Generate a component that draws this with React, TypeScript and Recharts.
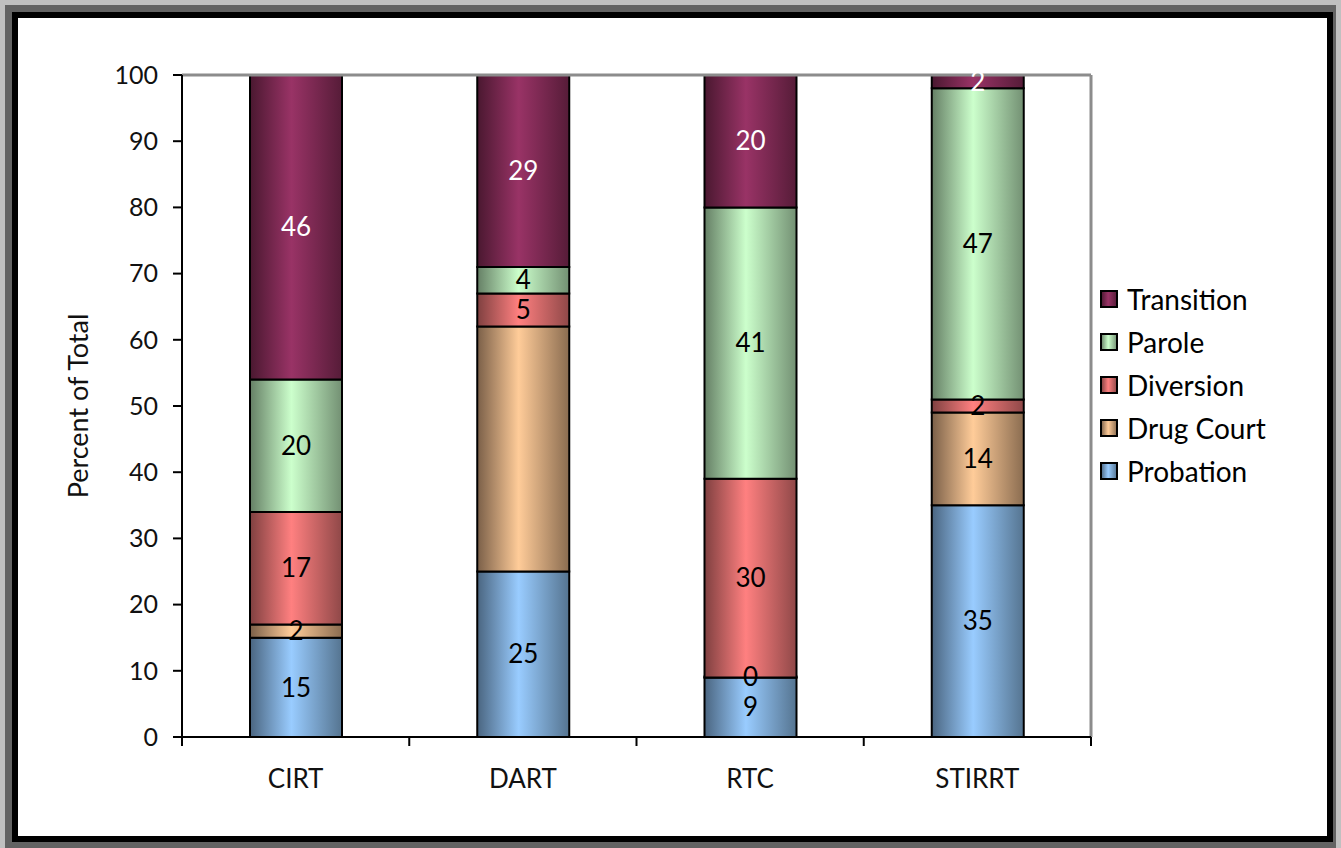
import { BarChart, Bar, XAxis, YAxis, Legend, LabelList, ReferenceLine } from "recharts";

const categories = ["CIRT", "DART", "RTC", "STIRRT"];

// stacked bottom to top
const seriesNames = ["Probation", "Drug Court", "Diversion", "Parole", "Transition"];
const probation = [15, 25, 9, 35];
const drugCourt = [2, 37, 0, 14];
const diversion = [17, 5, 30, 2];
const parole = [20, 4, 41, 47];
const transition = [46, 29, 20, 2];

// Excel did not print the DART drug court label
const hiddenLabels = [["DART", "Drug Court"]];

const yTicks = [0, 10, 20, 30, 40, 50, 60, 70, 80, 90, 100];

const SERIES_STYLE: Record<string, { id: string; light: string; dark: string; edge: string; label: string }> = {
  Probation: { id: "gProb", light: "#99CCFF", dark: "#4a6580", edge: "#557490", label: "#000" },
  "Drug Court": { id: "gDrug", light: "#FFCC99", dark: "#7a5f48", edge: "#8a6c50", label: "#000" },
  Diversion: { id: "gDiv", light: "#FF8080", dark: "#7f4040", edge: "#8f4848", label: "#000" },
  Parole: { id: "gPar", light: "#CCFFCC", dark: "#657f65", edge: "#739073", label: "#000" },
  Transition: { id: "gTra", light: "#993366", dark: "#4a1830", edge: "#561c38", label: "#fff" },
};

const values: Record<string, number[]> = {
  Probation: probation,
  "Drug Court": drugCourt,
  Diversion: diversion,
  Parole: parole,
  Transition: transition,
};

const data = categories.map((c, i) => {
  const row: Record<string, string | number> = { name: c };
  seriesNames.forEach((s) => {
    row[s] = values[s][i];
    const hidden = hiddenLabels.some(([cat, ser]) => cat === c && ser === s);
    row[`${s}_label`] = hidden ? "" : String(values[s][i]);
  });
  return row;
});

const FONT = "Lato, 'Open Sans', sans-serif";

// category label in the middle, tick marks on the band edges (Excel style)
function CategoryTick(props: any) {
  const { x, y, payload, index, visibleTicksCount } = props;
  const half = payload.offset ?? 0;
  const isLast = index === visibleTicksCount - 1;
  return (
    <g>
      <line x1={x - half} y1={y} x2={x - half} y2={y + 9} stroke="#000" strokeWidth={2} />
      {isLast && <line x1={x + half} y1={y} x2={x + half} y2={y + 9} stroke="#000" strokeWidth={2} />}
      <text x={x} y={y + 51} textAnchor="middle" fontSize={26} fill="#111" fontFamily={FONT}>
        {payload.value}
      </text>
    </g>
  );
}

function LegendBox() {
  return (
    <div style={{ fontFamily: FONT, fontSize: 28, color: "#000" }}>
      {[...seriesNames].reverse().map((s) => (
        <div key={s} style={{ display: "flex", alignItems: "center", height: 43 }}>
          <svg width={18} height={18} style={{ marginRight: 9 }}>
            <rect x={1} y={1} width={16} height={16} fill={`url(#${SERIES_STYLE[s].id})`} stroke="#000" strokeWidth={2} />
          </svg>
          <span>{s}</span>
        </div>
      ))}
    </div>
  );
}

export default function App() {
  return (
    <div style={{ position: "absolute", left: 0, top: 0, width: 1341, height: 848, background: "#c0c0c0", overflow: "hidden" }}>
      <div style={{ position: "absolute", left: 5, top: 5, width: 1331, height: 843, background: "#636363" }} />
      <div
        style={{
          position: "absolute",
          left: 12,
          top: 12,
          width: 1309,
          height: 818,
          background: "#fff",
          border: "6px solid #000",
        }}
      />
      <div style={{ position: "absolute", left: 0, top: 0 }}>
        <BarChart width={1341} height={848} data={data} margin={{ top: 75, right: 250, left: 102, bottom: 51 }}>
          <defs>
            {seriesNames.map((s) => {
              const st = SERIES_STYLE[s];
              return (
                <linearGradient key={s} id={st.id} x1="0" y1="0" x2="1" y2="0">
                  <stop offset="0%" stopColor={st.dark} />
                  <stop offset="45%" stopColor={st.light} />
                  <stop offset="100%" stopColor={st.edge} />
                </linearGradient>
              );
            })}
          </defs>
          <XAxis
            dataKey="name"
            height={60}
            interval={0}
            tickSize={0}
            tickMargin={0}
            tickLine={false}
            axisLine={{ stroke: "#000", strokeWidth: 2 }}
            tick={<CategoryTick />}
          />
          <YAxis
            type="number"
            domain={[0, 100]}
            ticks={yTicks}
            width={80}
            tickSize={9}
            tickMargin={15}
            interval={0}
            axisLine={{ stroke: "#000", strokeWidth: 2 }}
            tickLine={{ stroke: "#000", strokeWidth: 2 }}
            tick={{ fontSize: 25, fill: "#111", fontFamily: FONT }}
            label={{
              value: "Percent of Total",
              angle: -90,
              position: "insideLeft",
              dx: -29,
              style: { fontSize: 27, fill: "#111", fontFamily: FONT, textAnchor: "middle" },
            }}
          />
          <ReferenceLine y={100} stroke="#8c8c8c" strokeWidth={3} />
          <ReferenceLine x="STIRRT" position="end" stroke="#8c8c8c" strokeWidth={3} />
          {seriesNames.map((s) => (
            <Bar
              key={s}
              dataKey={s}
              stackId="a"
              barSize={92}
              minPointSize={1}
              fill={`url(#${SERIES_STYLE[s].id})`}
              stroke="#000"
              strokeWidth={2}
              isAnimationActive={false}
            >
              <LabelList
                dataKey={`${s}_label`}
                position="center"
                fill={SERIES_STYLE[s].label}
                style={{ fontSize: 26, fontFamily: FONT }}
              />
            </Bar>
          ))}
          <Legend
            layout="vertical"
            align="center"
            verticalAlign="middle"
            content={<LegendBox />}
            wrapperStyle={{ left: 1100, top: 277, width: 220 }}
          />
        </BarChart>
      </div>
    </div>
  );
}
